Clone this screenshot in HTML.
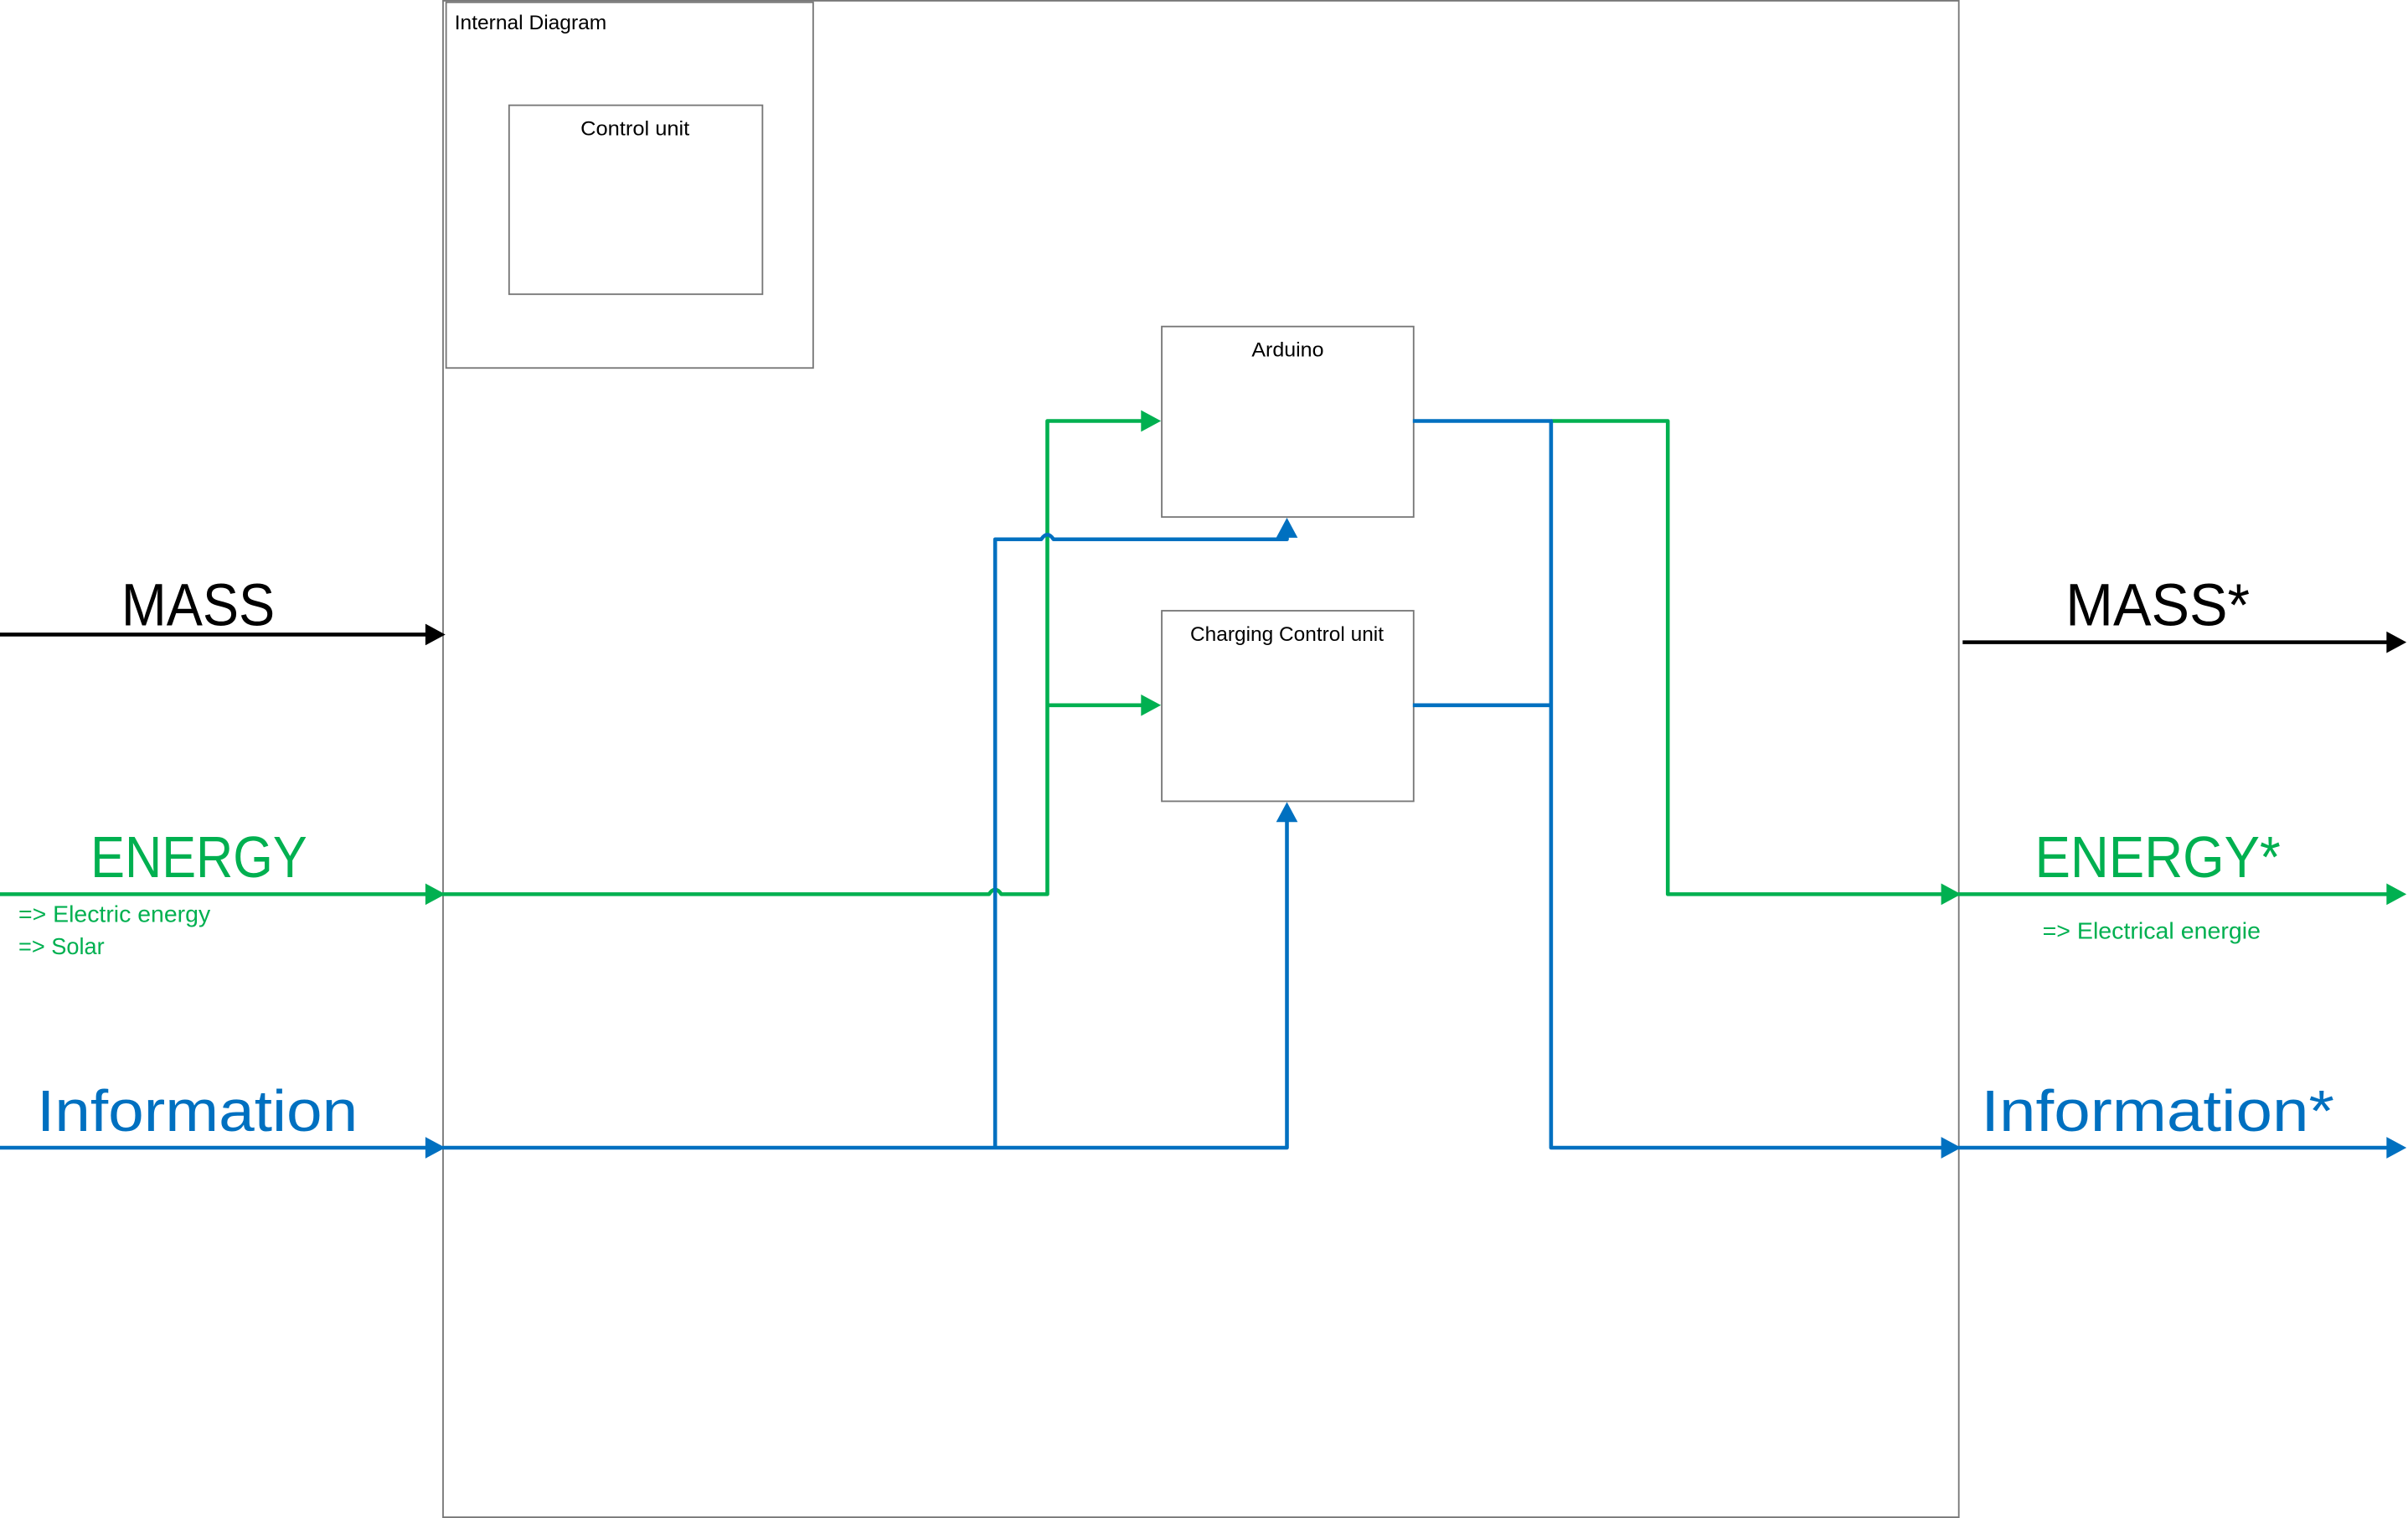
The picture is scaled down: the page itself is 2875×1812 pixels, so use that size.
<!DOCTYPE html>
<html><head><meta charset="utf-8"><style>html,body{margin:0;padding:0;background:#fff}svg{display:block}</style></head>
<body>
<svg width="2875" height="1812" viewBox="0 0 1568 988" preserveAspectRatio="none" xmlns="http://www.w3.org/2000/svg" font-family="Liberation Sans, DejaVu Sans, sans-serif">
<rect x="0" y="0" width="1568" height="988" fill="#fff"/>
<g fill="none" stroke="#777" stroke-width="1">
<rect x="288.5" y="0.5" width="987" height="987"/>
<rect x="290.5" y="1.5" width="239" height="238"/>
<rect x="331.5" y="68.5" width="165" height="123"/>
<rect x="756.5" y="212.5" width="164" height="124"/>
<rect x="756.5" y="397.5" width="164" height="124"/>
</g>
<g font-size="13" fill="#000" lengthAdjust="spacingAndGlyphs">
<text x="296" y="19" textLength="99" lengthAdjust="spacingAndGlyphs">Internal Diagram</text>
<text x="378" y="88" textLength="71" lengthAdjust="spacingAndGlyphs">Control unit</text>
<text x="815" y="232" textLength="47" lengthAdjust="spacingAndGlyphs">Arduino</text>
<text x="775" y="417" textLength="126" lengthAdjust="spacingAndGlyphs">Charging Control unit</text>
</g>
<g stroke="#000" stroke-width="2.5" fill="none">
<line x1="0" y1="413" x2="280" y2="413"/>
<line x1="1278" y1="418" x2="1558" y2="418"/>
</g>
<path d="M277,406L290,413L277,420z" fill="#000"/>
<path d="M1554,411L1567,418L1554,425z" fill="#000"/>
<text x="79" y="407" font-size="39" fill="#000" textLength="100" lengthAdjust="spacingAndGlyphs">MASS</text>
<text x="1345" y="407" font-size="39" fill="#000" textLength="120" lengthAdjust="spacingAndGlyphs">MASS*</text>
<g stroke="#00b050" stroke-width="2.5" fill="none" stroke-linejoin="round">
<line x1="0" y1="582" x2="280" y2="582"/>
<path d="M288,582H644q4,-6 8,0H682V274H746"/>
<path d="M682,459H746"/>
<path d="M1010,274H1086V582H1266"/>
<line x1="1275" y1="582" x2="1558" y2="582"/>
</g>
<g fill="#00b050">
<path d="M277,575L290,582L277,589z"/>
<path d="M743,267L756,274L743,281z"/>
<path d="M743,452L756,459L743,466z"/>
<path d="M1264,575L1277,582L1264,589z"/>
<path d="M1554,575L1567,582L1554,589z"/>
</g>
<g fill="#00b050">
<text x="59" y="571" font-size="38" textLength="141" lengthAdjust="spacingAndGlyphs">ENERGY</text>
<text x="12" y="600" font-size="15" textLength="125" lengthAdjust="spacingAndGlyphs">=&gt; Electric energy</text>
<text x="12" y="621" font-size="15" textLength="56" lengthAdjust="spacingAndGlyphs">=&gt; Solar</text>
<text x="1325" y="571" font-size="38" textLength="160" lengthAdjust="spacingAndGlyphs">ENERGY*</text>
<text x="1330" y="611" font-size="15" textLength="142" lengthAdjust="spacingAndGlyphs">=&gt; Electrical energie</text>
</g>
<g stroke="#0070c0" stroke-width="2.5" fill="none" stroke-linejoin="round">
<line x1="0" y1="747" x2="280" y2="747"/>
<path d="M288,747H838V532"/>
<path d="M648,747V351H678q4,-6 8,0H838V346"/>
<path d="M920,274H1010V747H1266"/>
<path d="M920,459H1010"/>
<line x1="1275" y1="747" x2="1558" y2="747"/>
</g>
<g fill="#0070c0">
<path d="M277,740L290,747L277,754z"/>
<path d="M831,350L838,337L845,350z"/>
<path d="M831,535L838,522L845,535z"/>
<path d="M1264,740L1277,747L1264,754z"/>
<path d="M1554,740L1567,747L1554,754z"/>
</g>
<g fill="#0070c0">
<text x="24" y="736" font-size="38" textLength="209" lengthAdjust="spacingAndGlyphs">Information</text>
<text x="1290" y="736" font-size="38" textLength="230" lengthAdjust="spacingAndGlyphs">Information*</text>
</g>
</svg>
</body></html>
